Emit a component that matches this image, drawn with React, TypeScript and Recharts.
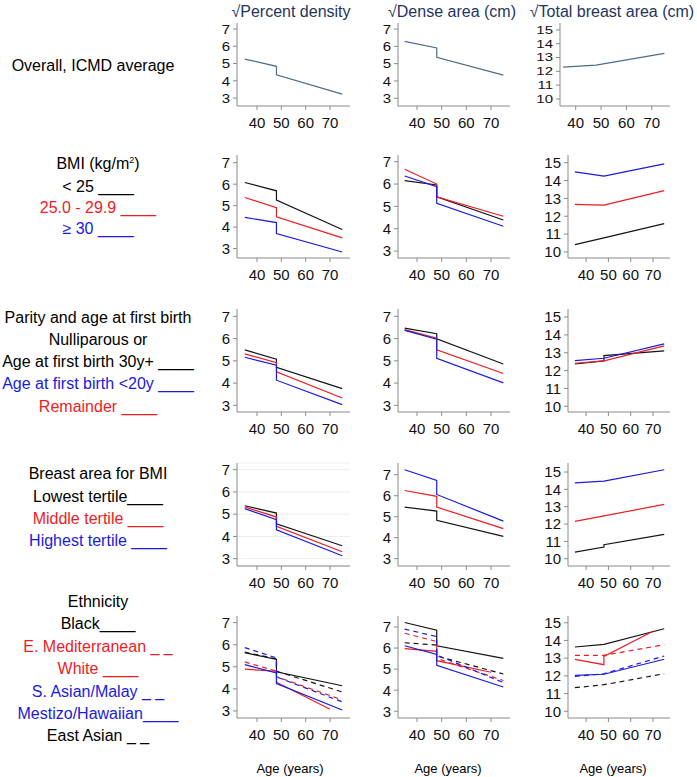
import React from 'react';
import { LineChart, Line, XAxis, YAxis, CartesianGrid } from 'recharts';

// ---- data ----
const AGES = [35, 48, 48, 75];
const AGES_70 = [35, 48, 48, 70];
const X_TICKS = [40, 50, 60, 70];
const Y_TICKS_PD = [3, 4, 5, 6, 7];
const Y_TICKS_TA = [10, 11, 12, 13, 14, 15];

const COL_TITLES = ['√Percent density', '√Dense area (cm)', '√Total breast area (cm)'];

// Row 1: overall
const overallPD = [5.26, 4.84, 4.35, 3.23];
const overallDA = [6.29, 5.91, 5.37, 4.34];
const overallTA = [12.3, 12.45, 12.45, 13.3];

// Row 2: BMI  (<25 black, 25-29.9 red, >=30 blue)
const bmiLowPD = [6.08, 5.69, 5.26, 3.89];
const bmiMidPD = [5.38, 4.9, 4.48, 3.5];
const bmiHighPD = [4.45, 4.21, 3.7, 2.84];
const bmiLowDA = [6.15, 5.96, 5.43, 4.39];
const bmiMidDA = [6.66, 6.0, 5.43, 4.56];
const bmiHighDA = [6.36, 5.88, 5.14, 4.11];
const bmiLowTA = [10.41, 10.79, 10.79, 11.59];
const bmiMidTA = [12.66, 12.62, 12.62, 13.43];
const bmiHighTA = [14.48, 14.25, 14.25, 14.93];

// Row 3: parity (nullip/30y+ black, <20y blue, remainder red)
const parNullPD = [5.49, 5.07, 4.71, 3.75];
const parRemPD = [5.31, 4.92, 4.51, 3.33];
const parYoungPD = [5.16, 4.8, 4.13, 3.03];
const parNullDA = [6.47, 6.22, 5.99, 4.86];
const parRemDA = [6.4, 6.02, 5.49, 4.43];
const parYoungDA = [6.37, 5.97, 5.11, 4.01];
const parNullTA = [12.37, 12.54, 12.84, 13.1];
const parRemTA = [12.41, 12.54, 12.54, 13.38];
const parYoungTA = [12.56, 12.69, 12.69, 13.5];

// Row 4: breast area tertiles (lowest black, middle red, highest blue)
const baLowPD = [5.38, 5.05, 4.57, 3.58];
const baMidPD = [5.32, 4.87, 4.45, 3.31];
const baHighPD = [5.25, 4.75, 4.3, 3.13];
const baLowDA = [5.46, 5.27, 4.83, 4.06];
const baMidDA = [6.25, 5.97, 5.46, 4.43];
const baHighDA = [7.24, 6.73, 6.06, 4.79];
const baLowTA = [10.38, 10.67, 10.81, 11.4];
const baMidTA = [12.15, 12.47, 12.47, 13.13];
const baHighTA = [14.37, 14.48, 14.48, 15.13];

// Row 5: ethnicity
const ethBlackPD = [5.64, 5.33, 4.77, 4.14];
const ethEMedPD = [5.22, 4.8, 4.55, 3.5];
const ethWhitePD = [4.89, 4.8, 4.3, 3.08];
const ethSAsianPD = [5.87, 5.4, 4.54, 3.41];
const ethMestizoPD = [5.1, 4.72, 4.24, 3.04];
const ethEAsianPD = [5.66, 5.36, 4.8, 3.86];
const ethBlackDA = [7.21, 6.85, 6.11, 5.51];
const ethEMedDA = [6.7, 6.31, 5.51, 4.46];
const ethWhiteDA = [5.97, 5.84, 5.4, 4.85];
const ethSAsianDA = [6.9, 6.54, 5.67, 4.36];
const ethMestizoDA = [6.11, 5.7, 5.18, 4.15];
const ethEAsianDA = [6.25, 6.14, 5.62, 4.77];
const ethBlackTA = [13.63, 13.78, 13.78, 14.66];
const ethEMedTA = [13.16, 13.16, 13.16, 13.76];
const ethWhiteTA = [12.93, 12.63, 13.1, 14.52];
const ethSAsianTA = [11.97, 12.12, 12.12, 13.12];
const ethMestizoTA = [12.03, 12.09, 12.09, 12.94];
const ethEAsianTA = [11.33, 11.5, 11.5, 12.12];

// ---- styles ----
const FONT = "'Liberation Sans', Arial, sans-serif";
const BLACK = '#141414';
const RED = '#ee1c24';
const BLUE = '#1a1ae0';
const OVERALL = '#4f6c8a';
const AXIS = '#8a8a8a';
const TITLE = '#1f3560';

type S = { ages: number[]; vals: number[]; color: string; dashed?: boolean };
const mk = (ages: number[], vals: number[]) => ages.map((a, i) => ({ age: a, v: vals[i] }));

type PanelProps = {
  left: number; top: number; w: number; h: number;
  xDomain: [number, number]; yDomain: [number, number]; yTicks: number[];
  series: S[]; grid?: boolean; squash?: number;
};

function makeYTick(squash: number) {
  return (props: any) => {
    const { x, y, payload } = props;
    return (
      <text
        x={x} y={y} textAnchor="end" dy="0.36em" fill="#111" fontSize={15} fontFamily={FONT}
        transform={`translate(0 ${y}) scale(1 ${squash}) translate(0 ${-y})`}
      >{payload.value}</text>
    );
  };
}

function Panel({ left, top, w, h, xDomain, yDomain, yTicks, series, grid, squash }: PanelProps) {
  const ML = 36, MT = 10, MB = 28, MR = 6;
  const yTick = squash ? makeYTick(squash) : { fill: '#111', fontSize: 15, fontFamily: FONT };
  return (
    <div style={{ position: 'absolute', left: left - ML, top: top - MT }}>
      <LineChart width={w + ML + MR} height={h + MT + MB} margin={{ top: MT, right: MR, bottom: 0, left: 0 }}>
        {grid && <CartesianGrid vertical={false} stroke="#e9eef3" />}
        <XAxis
          type="number" dataKey="age" domain={xDomain} ticks={X_TICKS} allowDataOverflow
          height={MB} tickSize={4} tickMargin={7} interval={0}
          axisLine={{ stroke: AXIS }} tickLine={{ stroke: AXIS }}
          tick={{ fill: '#111', fontSize: 15, fontFamily: FONT }}
        />
        <YAxis
          type="number" domain={yDomain} ticks={yTicks} allowDataOverflow width={ML}
          tickSize={4} tickMargin={3} interval={0}
          axisLine={{ stroke: AXIS }} tickLine={{ stroke: AXIS }}
          tick={yTick as any}
        />
        {series.map((s, i) => (
          <Line
            key={i} data={mk(s.ages, s.vals)} dataKey="v" type="linear" stroke={s.color}
            strokeWidth={1.2} strokeDasharray={s.dashed ? '5 4' : undefined}
            dot={false} activeDot={false} isAnimationActive={false}
          />
        ))}
      </LineChart>
    </div>
  );
}

function Txt({ x, y, color = '#000', size = 16, children }: any) {
  return (
    <div style={{
      position: 'absolute', left: x, top: y, transform: 'translate(-50%, -50%)',
      whiteSpace: 'nowrap', color, fontSize: size, fontFamily: FONT, lineHeight: 1,
    }}>{children}</div>
  );
}

const COLS = [
  { left: 237, w: 113, xd: [31.8, 78.2] as [number, number] },
  { left: 398, w: 112, xd: [32.3, 77.7] as [number, number] },
  { left: 568, w: 102, xd: [31.9, 77.6] as [number, number] },
];

const ROWS = [
  { top: 23, h: 83 },
  { top: 155, h: 103 },
  { top: 309, h: 103 },
  { top: 463, h: 103 },
  { top: 616, h: 102 },
];

export default function App() {
  const panels: PanelProps[] = [];
  const add = (r: number, c: number, yd: [number, number], series: S[], extra: Partial<PanelProps> = {}) => {
    panels.push({
      left: COLS[c].left, top: ROWS[r].top, w: COLS[c].w, h: ROWS[r].h,
      xDomain: COLS[c].xd, yDomain: yd, yTicks: c === 2 ? Y_TICKS_TA : Y_TICKS_PD, series, ...extra,
    });
  };
  // row 1
  add(0, 0, [2.54, 7.35], [{ ages: AGES, vals: overallPD, color: OVERALL }], { squash: 0.9 });
  add(0, 1, [2.55, 7.35], [{ ages: AGES, vals: overallDA, color: OVERALL }], { squash: 0.9 });
  add(0, 2, [9.49, 15.5], [{ ages: AGES, vals: overallTA, color: OVERALL }], { left: 560, w: 110, xDomain: [33.8, 77.2], squash: 0.72 });
  // row 2
  add(1, 0, [2.56, 7.36], [
    { ages: AGES, vals: bmiLowPD, color: BLACK },
    { ages: AGES, vals: bmiMidPD, color: RED },
    { ages: AGES, vals: bmiHighPD, color: BLUE },
  ]);
  add(1, 1, [2.69, 7.3], [
    { ages: AGES, vals: bmiLowDA, color: BLACK },
    { ages: AGES, vals: bmiMidDA, color: RED },
    { ages: AGES, vals: bmiHighDA, color: BLUE },
  ]);
  add(1, 2, [9.66, 15.43], [
    { ages: AGES, vals: bmiLowTA, color: BLACK },
    { ages: AGES, vals: bmiMidTA, color: RED },
    { ages: AGES, vals: bmiHighTA, color: BLUE },
  ]);
  // row 3
  add(2, 0, [2.7, 7.33], [
    { ages: AGES, vals: parNullPD, color: BLACK },
    { ages: AGES, vals: parRemPD, color: RED },
    { ages: AGES, vals: parYoungPD, color: BLUE },
  ]);
  add(2, 1, [2.7, 7.33], [
    { ages: AGES, vals: parNullDA, color: BLACK },
    { ages: AGES, vals: parRemDA, color: RED },
    { ages: AGES, vals: parYoungDA, color: BLUE },
  ]);
  add(2, 2, [9.68, 15.45], [
    { ages: AGES, vals: parNullTA, color: BLACK },
    { ages: AGES, vals: parRemTA, color: RED },
    { ages: AGES, vals: parYoungTA, color: BLUE },
  ]);
  // row 4
  add(3, 0, [2.67, 7.3], [
    { ages: AGES, vals: baLowPD, color: BLACK },
    { ages: AGES, vals: baMidPD, color: RED },
    { ages: AGES, vals: baHighPD, color: BLUE },
  ], { grid: true });
  add(3, 1, [2.65, 7.56], [
    { ages: AGES, vals: baLowDA, color: BLACK },
    { ages: AGES, vals: baMidDA, color: RED },
    { ages: AGES, vals: baHighDA, color: BLUE },
  ]);
  add(3, 2, [9.58, 15.52], [
    { ages: AGES, vals: baLowTA, color: BLACK },
    { ages: AGES, vals: baMidTA, color: RED },
    { ages: AGES, vals: baHighTA, color: BLUE },
  ]);
  // row 5
  add(4, 0, [2.68, 7.3], [
    { ages: AGES, vals: ethEAsianPD, color: BLACK, dashed: true },
    { ages: AGES, vals: ethBlackPD, color: BLACK },
    { ages: AGES, vals: ethEMedPD, color: RED, dashed: true },
    { ages: AGES_70, vals: ethWhitePD, color: RED },
    { ages: AGES, vals: ethSAsianPD, color: BLUE, dashed: true },
    { ages: AGES, vals: ethMestizoPD, color: BLUE },
  ]);
  add(4, 1, [2.68, 7.52], [
    { ages: AGES, vals: ethEAsianDA, color: BLACK, dashed: true },
    { ages: AGES, vals: ethBlackDA, color: BLACK },
    { ages: AGES, vals: ethEMedDA, color: RED, dashed: true },
    { ages: AGES_70, vals: ethWhiteDA, color: RED },
    { ages: AGES, vals: ethSAsianDA, color: BLUE, dashed: true },
    { ages: AGES, vals: ethMestizoDA, color: BLUE },
  ]);
  add(4, 2, [9.62, 15.38], [
    { ages: AGES, vals: ethEAsianTA, color: BLACK, dashed: true },
    { ages: AGES, vals: ethBlackTA, color: BLACK },
    { ages: AGES, vals: ethEMedTA, color: RED, dashed: true },
    { ages: AGES_70, vals: ethWhiteTA, color: RED },
    { ages: AGES, vals: ethSAsianTA, color: BLUE, dashed: true },
    { ages: AGES, vals: ethMestizoTA, color: BLUE },
  ]);

  const LX = 98;
  return (
    <div style={{ position: 'absolute', left: 0, top: 0, width: 697, height: 777, background: '#fff', overflow: 'hidden' }}>
      <Txt x={291} y={12} color={TITLE}>{COL_TITLES[0]}</Txt>
      <Txt x={452} y={12} color={TITLE}>{COL_TITLES[1]}</Txt>
      <Txt x={612} y={12} color={TITLE}>{COL_TITLES[2]}</Txt>

      <Txt x={93} y={66}>Overall, ICMD average</Txt>

      <Txt x={LX} y={164}>BMI (kg/m<sup style={{ fontSize: 9 }}>2</sup>)</Txt>
      <Txt x={LX} y={187}>{'< 25 ____'}</Txt>
      <Txt x={LX} y={208} color={RED}>{'25.0 - 29.9  ____'}</Txt>
      <Txt x={LX} y={229} color={BLUE}>{'≥ 30 ____'}</Txt>

      <Txt x={LX} y={318}>Parity and age at first birth</Txt>
      <Txt x={LX} y={340}>Nulliparous or</Txt>
      <Txt x={LX} y={362}>{'Age at first birth 30y+ ____'}</Txt>
      <Txt x={LX} y={384} color={BLUE}>{'Age at first birth <20y ____'}</Txt>
      <Txt x={LX} y={407} color={RED}>{'Remainder ____'}</Txt>

      <Txt x={LX} y={474}>Breast area for BMI</Txt>
      <Txt x={LX} y={497}>{'Lowest tertile____'}</Txt>
      <Txt x={LX} y={519} color={RED}>{'Middle tertile ____'}</Txt>
      <Txt x={LX} y={541} color={BLUE}>{'Highest tertile ____'}</Txt>

      <Txt x={LX} y={602}>Ethnicity</Txt>
      <Txt x={LX} y={624}>{'Black____'}</Txt>
      <Txt x={LX} y={647} color={RED}>{'E. Mediterranean _ _'}</Txt>
      <Txt x={LX} y={669} color={RED}>{'White ____'}</Txt>
      <Txt x={LX} y={692} color={BLUE}>{'S. Asian/Malay _ _'}</Txt>
      <Txt x={LX} y={714} color={BLUE}>{'Mestizo/Hawaiian____'}</Txt>
      <Txt x={LX} y={736}>{'East Asian _ _'}</Txt>

      {panels.map((p, i) => <Panel key={i} {...p} />)}

      <Txt x={290} y={768} size={13}>Age (years)</Txt>
      <Txt x={448} y={768} size={13}>Age (years)</Txt>
      <Txt x={613} y={768} size={13}>Age (years)</Txt>
    </div>
  );
}
